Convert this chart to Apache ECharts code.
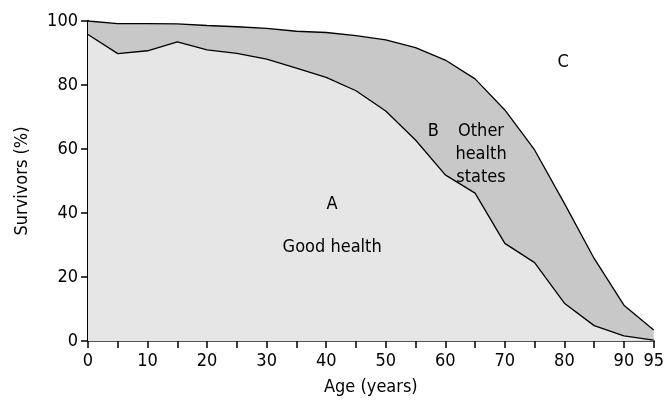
<!DOCTYPE html>
<html>
<head>
<meta charset="utf-8">
<script src="https://cdn.jsdelivr.net/npm/echarts@6/dist/echarts.min.js"></script>
<style>
  html, body { margin: 0; padding: 0; background: #fff; }
  #chart { width: 667px; height: 408px; }
</style>
</head>
<body>
<div id="chart"></div>
<script>
  // ages (years)
  const ages = [0, 5, 10, 15, 20, 25, 30, 35, 40, 45, 50, 55, 60, 65, 70, 75, 80, 85, 90, 95];
  // total survivors (%)
  const survivors = [100, 99.2, 99.2, 99.1, 98.6, 98.2, 97.7, 96.8, 96.4, 95.4, 94.1, 91.7, 87.8, 81.9, 72.2, 59.7, 43, 25.8, 11.2, 3.4];
  // survivors in good health (%)
  const goodHealth = [95.8, 89.8, 90.7, 93.5, 91.0, 89.9, 88.1, 85.3, 82.4, 78.2, 71.9, 62.8, 51.9, 46.2, 30.5, 24.5, 11.8, 4.8, 1.6, 0.3];
  // region labels [age, %, text]
  const regionLabels = [
    [41, 42.8, 'A'],
    [41, 29.4, 'Good health'],
    [58, 65.6, 'B'],
    [66, 58.4, 'Other\nhealth\nstates'],
    [79.8, 87.2, 'C']
  ];

  const font = '"DejaVu Sans Condensed", "Liberation Sans Narrow", sans-serif';
  const chart = echarts.init(document.getElementById('chart'));

  const pair = (vals) => ages.map((a, i) => [a, vals[i]]);

  chart.setOption({
    animation: false,
    grid: { left: 88, right: 11, top: 21, bottom: 67 },
    textStyle: { fontFamily: font },
    xAxis: [{
      type: 'value',
      min: 0,
      max: 95,
      interval: 5,
      name: 'Age (years)',
      nameLocation: 'middle',
      nameGap: 37,
      nameTextStyle: { fontSize: 18, color: '#000', fontFamily: font },
      axisLine: { lineStyle: { color: '#000', width: 2 } },
      axisTick: { length: 7, lineStyle: { color: '#000', width: 1.5 } },
      axisLabel: {
        fontSize: 18,
        color: '#000',
        fontFamily: font,
        margin: 11,
        formatter: v => (v % 10 === 0 || v === 95) ? String(v) : ''
      },
      splitLine: { show: false }
    }, {
      type: 'value',
      position: 'top',
      min: 0,
      max: 95,
      axisLine: { show: true, lineStyle: { color: '#555', width: 2 } },
      axisTick: { show: false },
      axisLabel: { show: false },
      splitLine: { show: false }
    }],
    yAxis: [{
      type: 'value',
      min: 0,
      max: 100,
      interval: 20,
      name: 'Survivors (%)',
      nameLocation: 'middle',
      nameGap: 57,
      nameTextStyle: { fontSize: 18, color: '#000', fontFamily: font },
      axisLine: { show: true, lineStyle: { color: '#000', width: 2 } },
      axisTick: { show: true, length: 7, lineStyle: { color: '#000', width: 1.5 } },
      axisLabel: { fontSize: 18, color: '#000', fontFamily: font, margin: 10 },
      splitLine: { show: false }
    }, {
      type: 'value',
      position: 'right',
      min: 0,
      max: 100,
      axisLine: { show: true, lineStyle: { color: '#000', width: 1.5 } },
      axisTick: { show: false },
      axisLabel: { show: false },
      splitLine: { show: false }
    }],
    series: [
      {
        type: 'line',
        data: pair(survivors),
        symbol: 'none',
        lineStyle: { color: '#000', width: 1.3 },
        areaStyle: { color: '#c8c8c8', opacity: 1 },
        z: 1
      },
      {
        type: 'line',
        data: pair(goodHealth),
        symbol: 'none',
        lineStyle: { color: '#000', width: 1.3 },
        areaStyle: { color: '#e6e6e6', opacity: 1 },
        z: 2
      },
      {
        type: 'scatter',
        data: regionLabels,
        symbolSize: 0,
        silent: true,
        z: 5,
        itemStyle: { opacity: 1 },
        label: {
          show: true,
          position: 'inside',
          formatter: p => p.data[2],
          fontSize: 18,
          lineHeight: 23,
          color: '#000',
          fontFamily: font
        }
      }
    ]
  });
</script>
</body>
</html>
